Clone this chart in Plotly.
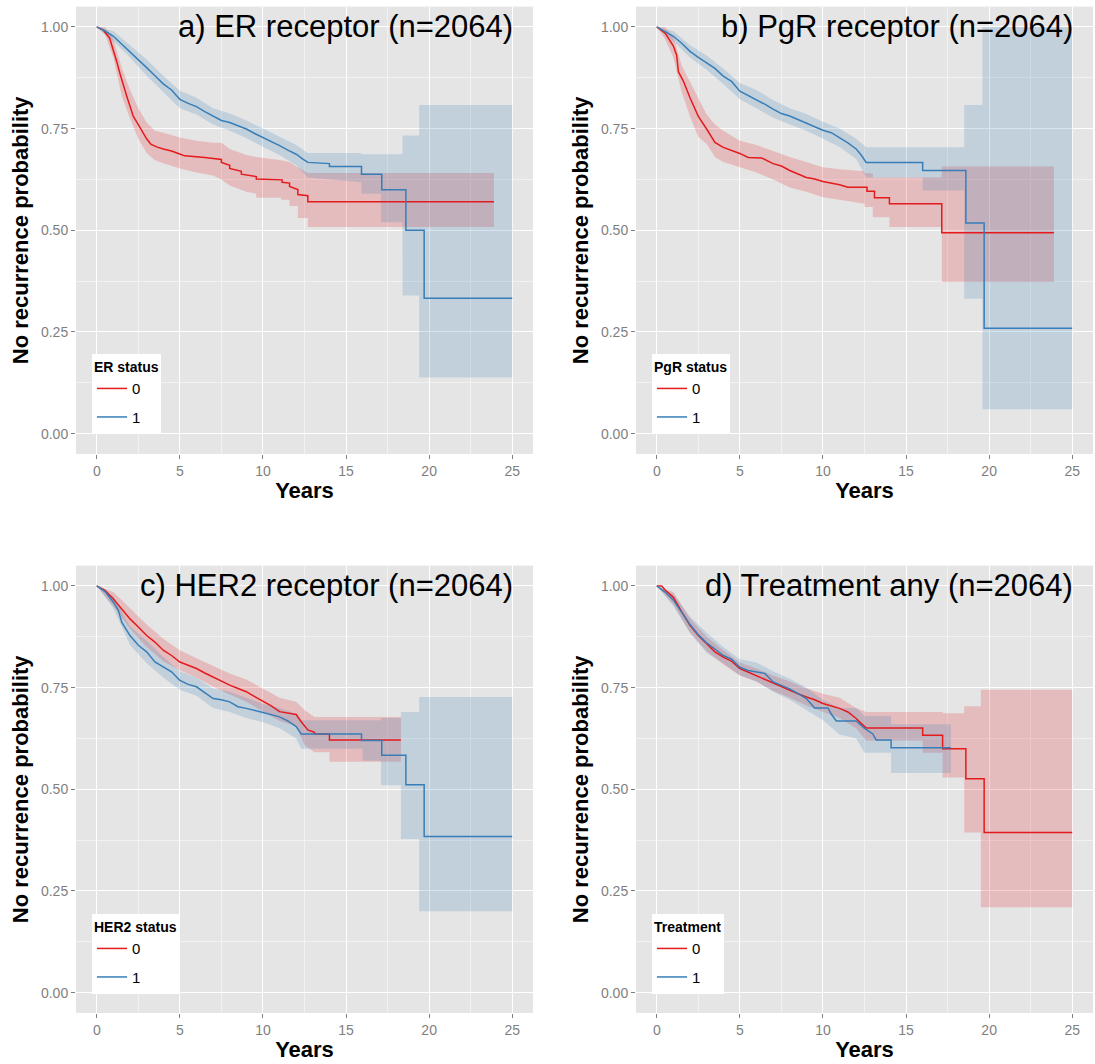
import plotly.graph_objects as go

W, H = 1095, 1064

X_TICKS = [0, 5, 10, 15, 20, 25]
Y_TICKS = [0.0, 0.25, 0.5, 0.75, 1.0]
Y_TICK_TEXT = ["0.00", "0.25", "0.50", "0.75", "1.00"]
GROUPS = ["0", "1"]

# Kaplan-Meier estimates; a repeated time marks a step (value before, value after)

# ---------------- a) ER receptor ----------------
ER0_T = [0, 0.4, 0.77, 1.0, 1.2, 1.4, 1.6, 1.8, 2.0, 2.2, 2.5, 2.7, 3.0, 3.25, 3.6, 4.0, 4.5, 4.9, 5.3, 6.5, 7.5, 7.5, 8.0, 8.0, 8.7, 8.7, 9.6, 9.6, 11.15, 11.15, 11.6, 11.6, 12.1, 12.1, 12.7, 12.7, 23.9]
ER0_S = [1.0, 0.992, 0.973, 0.945, 0.915, 0.885, 0.855, 0.83, 0.805, 0.78, 0.76, 0.745, 0.725, 0.712, 0.705, 0.70, 0.695, 0.689, 0.683, 0.679, 0.674, 0.667, 0.66, 0.652, 0.645, 0.638, 0.632, 0.626, 0.624, 0.618, 0.616, 0.608, 0.60, 0.588, 0.585, 0.57, 0.57]
ER0_BT = [0, 0.5, 1.0, 1.5, 2.0, 2.5, 3.0, 3.5, 4.0, 5.0, 6.0, 7.0, 7.5, 8.0, 9.0, 9.6, 9.6, 11.1, 11.1, 11.6, 11.6, 12.1, 12.1, 12.7, 12.7, 23.9]
ER0_LO = [1.0, 0.98, 0.925, 0.83, 0.775, 0.725, 0.69, 0.672, 0.665, 0.652, 0.642, 0.635, 0.625, 0.61, 0.595, 0.59, 0.58, 0.58, 0.575, 0.575, 0.56, 0.56, 0.53, 0.53, 0.508, 0.508]
ER0_HI = [1.0, 1.0, 0.97, 0.9, 0.845, 0.8, 0.765, 0.745, 0.74, 0.728, 0.72, 0.715, 0.715, 0.70, 0.685, 0.68, 0.68, 0.672, 0.672, 0.668, 0.668, 0.655, 0.655, 0.641, 0.641, 0.641]

ER1_T = [0, 0.5, 1.0, 1.5, 2.0, 2.5, 3.0, 3.5, 4.0, 4.5, 5.0, 5.5, 6.0, 6.5, 7.0, 7.5, 8.0, 8.5, 9.0, 9.5, 10.0, 10.5, 11.0, 11.5, 12.0, 12.4, 12.7, 14.0, 14.0, 15.93, 15.93, 17.15, 17.15, 18.6, 18.6, 19.7, 19.7, 25]
ER1_S = [1.0, 0.99, 0.977, 0.958, 0.94, 0.92, 0.90, 0.88, 0.86, 0.845, 0.822, 0.812, 0.804, 0.792, 0.78, 0.77, 0.765, 0.757, 0.749, 0.738, 0.728, 0.72, 0.708, 0.697, 0.687, 0.675, 0.667, 0.664, 0.657, 0.657, 0.638, 0.638, 0.60, 0.60, 0.50, 0.50, 0.333, 0.333]
ER1_BT = [0, 1, 2, 3, 4, 5, 6, 7, 8, 9, 10, 11, 12, 12.7, 15.93, 15.93, 17.1, 17.1, 18.4, 18.4, 19.4, 19.4, 25]
ER1_LO = [1.0, 0.965, 0.925, 0.88, 0.84, 0.80, 0.785, 0.76, 0.745, 0.727, 0.705, 0.685, 0.66, 0.63, 0.618, 0.59, 0.59, 0.52, 0.52, 0.34, 0.34, 0.138, 0.138]
ER1_HI = [1.0, 0.99, 0.955, 0.92, 0.88, 0.843, 0.826, 0.80, 0.787, 0.77, 0.75, 0.73, 0.71, 0.69, 0.69, 0.687, 0.687, 0.687, 0.687, 0.733, 0.733, 0.808, 0.808]

# ---------------- b) PgR receptor ----------------
PGR0_T = [0, 0.5, 1.0, 1.2, 1.3, 1.6, 2.0, 2.5, 3.0, 3.5, 4.0, 4.5, 5.0, 5.5, 6.3, 7.0, 7.5, 8.0, 8.5, 9.0, 9.5, 10.0, 11.0, 11.5, 12.65, 12.65, 13.1, 13.1, 14.0, 14.0, 17.15, 17.15, 23.9]
PGR0_S = [1.0, 0.985, 0.953, 0.93, 0.89, 0.867, 0.826, 0.78, 0.749, 0.716, 0.704, 0.697, 0.689, 0.679, 0.678, 0.664, 0.658, 0.647, 0.638, 0.63, 0.626, 0.62, 0.612, 0.606, 0.606, 0.596, 0.596, 0.58, 0.58, 0.565, 0.565, 0.494, 0.494]
PGR0_BT = [0, 0.5, 1, 1.5, 2, 2.5, 3, 3.5, 4, 5, 6, 7, 8, 9, 10, 11, 12.5, 12.5, 13.0, 13.0, 14.0, 14.0, 17.15, 17.15, 23.9]
PGR0_LO = [1.0, 0.97, 0.925, 0.84, 0.78, 0.73, 0.712, 0.68, 0.668, 0.655, 0.642, 0.625, 0.605, 0.595, 0.581, 0.575, 0.565, 0.557, 0.557, 0.532, 0.532, 0.508, 0.508, 0.373, 0.373]
PGR0_HI = [1.0, 1.0, 0.975, 0.905, 0.865, 0.825, 0.785, 0.76, 0.745, 0.72, 0.71, 0.695, 0.68, 0.668, 0.655, 0.65, 0.645, 0.64, 0.64, 0.63, 0.63, 0.63, 0.63, 0.657, 0.657]

PGR1_T = [0, 0.5, 1, 1.5, 2, 2.5, 3, 3.5, 4, 4.5, 5, 5.5, 6, 6.5, 7, 7.5, 8, 8.5, 9, 9.5, 10, 10.5, 11, 11.5, 12, 12.3, 12.6, 16.0, 16.0, 18.6, 18.6, 19.7, 19.7, 25]
PGR1_S = [1.0, 0.988, 0.977, 0.96, 0.94, 0.925, 0.912, 0.898, 0.879, 0.866, 0.842, 0.832, 0.822, 0.81, 0.798, 0.787, 0.781, 0.772, 0.765, 0.755, 0.746, 0.74, 0.728, 0.715, 0.70, 0.685, 0.667, 0.667, 0.647, 0.647, 0.518, 0.518, 0.259, 0.259]
PGR1_BT = [0, 1, 2, 3, 4, 5, 6, 7, 8, 9, 10, 11, 12, 12.6, 16.0, 16.0, 18.5, 18.5, 19.6, 19.6, 25]
PGR1_LO = [1.0, 0.965, 0.925, 0.895, 0.86, 0.822, 0.80, 0.777, 0.76, 0.745, 0.725, 0.705, 0.675, 0.63, 0.63, 0.598, 0.598, 0.332, 0.332, 0.06, 0.06]
PGR1_HI = [1.0, 0.99, 0.955, 0.93, 0.898, 0.862, 0.845, 0.82, 0.80, 0.786, 0.767, 0.75, 0.725, 0.704, 0.704, 0.704, 0.704, 0.808, 0.808, 1.0, 1.0]

# ---------------- c) HER2 receptor ----------------
HER0_T = [0, 0.5, 1, 1.5, 2, 2.5, 3, 3.5, 4, 4.5, 5, 5.5, 6, 6.5, 7, 7.5, 8, 8.5, 9, 9.5, 10, 10.5, 11, 12, 12.3, 12.7, 13.1, 13.1, 14.0, 14.0, 18.3]
HER0_S = [1.0, 0.989, 0.968, 0.944, 0.919, 0.899, 0.878, 0.862, 0.842, 0.829, 0.813, 0.805, 0.797, 0.786, 0.776, 0.765, 0.756, 0.748, 0.74, 0.728, 0.717, 0.705, 0.691, 0.684, 0.666, 0.646, 0.64, 0.636, 0.636, 0.621, 0.621]
HER0_BT = [0, 1, 2, 3, 4, 5, 6, 7, 8, 9, 10, 11, 12, 12.5, 13.1, 14, 14, 18.3]
HER0_LO = [1.0, 0.95, 0.895, 0.85, 0.815, 0.793, 0.775, 0.752, 0.733, 0.715, 0.691, 0.668, 0.655, 0.609, 0.591, 0.591, 0.568, 0.568]
HER0_HI = [1.0, 0.985, 0.945, 0.905, 0.87, 0.842, 0.822, 0.803, 0.785, 0.77, 0.748, 0.725, 0.715, 0.695, 0.678, 0.678, 0.678, 0.678]

HER1_T = [0, 0.5, 1, 1.3, 1.5, 2, 2.5, 3, 3.5, 4, 4.5, 5, 5.5, 6, 6.5, 7, 7.5, 8, 8.5, 9, 10, 11, 11.5, 12, 12.3, 15.93, 15.93, 17.15, 17.15, 18.6, 18.6, 19.7, 19.7, 25]
HER1_S = [1.0, 0.986, 0.96, 0.94, 0.911, 0.878, 0.854, 0.838, 0.813, 0.80, 0.789, 0.768, 0.758, 0.752, 0.738, 0.723, 0.72, 0.715, 0.703, 0.699, 0.689, 0.678, 0.668, 0.654, 0.636, 0.636, 0.62, 0.62, 0.584, 0.584, 0.511, 0.511, 0.384, 0.384]
HER1_BT = [0, 1, 2, 3, 4, 5, 6, 7, 8, 9, 10, 11, 12, 12.3, 16.0, 16.0, 17.1, 17.1, 18.3, 18.3, 19.4, 19.4, 25]
HER1_LO = [1.0, 0.945, 0.855, 0.81, 0.775, 0.745, 0.73, 0.70, 0.69, 0.675, 0.665, 0.65, 0.625, 0.60, 0.60, 0.57, 0.57, 0.51, 0.51, 0.378, 0.378, 0.20, 0.20]
HER1_HI = [1.0, 0.975, 0.90, 0.865, 0.825, 0.79, 0.775, 0.748, 0.74, 0.725, 0.71, 0.70, 0.685, 0.67, 0.67, 0.67, 0.67, 0.675, 0.675, 0.69, 0.69, 0.727, 0.727]

# ---------------- d) Treatment any ----------------
TRT0_T = [0, 0.3, 0.5, 1, 1.5, 2, 2.5, 3, 3.5, 4, 4.5, 5, 5.5, 6, 6.5, 7, 7.5, 8, 8.5, 9, 9.5, 10, 10.5, 11, 11.5, 12, 12.3, 12.6, 16.0, 16.0, 17.2, 17.2, 18.6, 18.6, 19.7, 19.7, 25]
TRT0_S = [1.0, 1.0, 0.99, 0.972, 0.936, 0.903, 0.878, 0.858, 0.838, 0.825, 0.815, 0.797, 0.788, 0.78, 0.77, 0.76, 0.752, 0.744, 0.735, 0.727, 0.72, 0.711, 0.705, 0.699, 0.69, 0.674, 0.662, 0.651, 0.651, 0.633, 0.633, 0.60, 0.60, 0.526, 0.526, 0.394, 0.394]
TRT0_BT = [0, 1, 2, 3, 4, 5, 6, 7, 8, 9, 10, 11, 12, 12.6, 16.0, 16.0, 17.2, 17.2, 18.5, 18.5, 19.5, 19.5, 25]
TRT0_LO = [1.0, 0.955, 0.885, 0.84, 0.807, 0.78, 0.765, 0.742, 0.725, 0.706, 0.69, 0.675, 0.65, 0.62, 0.62, 0.59, 0.59, 0.529, 0.529, 0.394, 0.394, 0.21, 0.21]
TRT0_HI = [1.0, 0.985, 0.92, 0.875, 0.842, 0.812, 0.797, 0.78, 0.765, 0.748, 0.735, 0.725, 0.70, 0.69, 0.69, 0.69, 0.69, 0.687, 0.687, 0.704, 0.704, 0.745, 0.745]

TRT1_T = [0, 0.5, 1, 1.5, 2, 2.5, 3, 3.5, 4, 4.5, 5, 5.5, 6, 6.5, 7, 7.5, 8, 8.5, 9, 9.5, 10.3, 10.5, 10.8, 12.0, 12.5, 13.0, 13.2, 14.1, 14.1, 17.7]
TRT1_S = [1.0, 0.985, 0.965, 0.935, 0.905, 0.88, 0.86, 0.845, 0.829, 0.82, 0.80, 0.792, 0.789, 0.785, 0.764, 0.755, 0.747, 0.735, 0.723, 0.70, 0.70, 0.685, 0.668, 0.668, 0.65, 0.636, 0.621, 0.621, 0.602, 0.602]
TRT1_BT = [0, 1, 2, 3, 4, 5, 6, 7, 8, 9, 10, 11, 12, 12.5, 14.1, 14.1, 17.7]
TRT1_LO = [1.0, 0.95, 0.885, 0.835, 0.81, 0.78, 0.765, 0.74, 0.72, 0.695, 0.67, 0.635, 0.625, 0.59, 0.59, 0.54, 0.54]
TRT1_HI = [1.0, 0.98, 0.925, 0.885, 0.85, 0.82, 0.812, 0.79, 0.772, 0.75, 0.72, 0.70, 0.70, 0.68, 0.68, 0.66, 0.66]

PANEL_TITLES = ["a) ER receptor (n=2064)", "b) PgR receptor (n=2064)",
                "c) HER2 receptor (n=2064)", "d) Treatment any (n=2064)"]
LEGEND_TITLES = ["ER status", "PgR status", "HER2 status", "Treatment"]
SERIES = [
    [(ER0_T, ER0_S, ER0_BT, ER0_LO, ER0_HI), (ER1_T, ER1_S, ER1_BT, ER1_LO, ER1_HI)],
    [(PGR0_T, PGR0_S, PGR0_BT, PGR0_LO, PGR0_HI), (PGR1_T, PGR1_S, PGR1_BT, PGR1_LO, PGR1_HI)],
    [(HER0_T, HER0_S, HER0_BT, HER0_LO, HER0_HI), (HER1_T, HER1_S, HER1_BT, HER1_LO, HER1_HI)],
    [(TRT0_T, TRT0_S, TRT0_BT, TRT0_LO, TRT0_HI), (TRT1_T, TRT1_S, TRT1_BT, TRT1_LO, TRT1_HI)],
]
for panel in SERIES:
    for T, S, BT, LO, HI in panel:
        assert len(T) == len(S), (len(T), len(S))
        assert len(BT) == len(LO) == len(HI), (len(BT), len(LO), len(HI))

# ---------------- style / layout ----------------
FONT = "Liberation Sans, Arial, Helvetica, sans-serif"
LINE_COLORS = ["#E41A1C", "#377EB8"]
FILL_COLORS = ["rgba(228,26,28,0.2)", "rgba(55,126,184,0.2)"]
PANEL_BG = "#E5E5E5"

COLS_PX = [(76, 533), (636, 1093)]
ROWS_PX = [(6.6, 454), (565.6, 1013)]
LEGEND_POS_PX = [(92, 354), (652, 354), (92, 914), (652, 914)]

fig = go.Figure()
layout = {}

for i in range(4):
    n = i + 1
    r, c = divmod(i, 2)
    xs = "" if n == 1 else str(n)
    xa, ya = "x" + xs, "y" + xs
    lg = "legend" + ("" if n == 1 else str(n))

    for (T, S, BT, LO, HI), fc in zip(SERIES[i], FILL_COLORS):
        fig.add_trace(go.Scatter(x=BT, y=LO, mode="lines", line=dict(width=0),
                                 xaxis=xa, yaxis=ya, showlegend=False, hoverinfo="skip"))
        fig.add_trace(go.Scatter(x=BT, y=HI, mode="lines", line=dict(width=0),
                                 fill="tonexty", fillcolor=fc,
                                 xaxis=xa, yaxis=ya, showlegend=False, hoverinfo="skip"))
    for (T, S, BT, LO, HI), lc, name in zip(SERIES[i], LINE_COLORS, GROUPS):
        fig.add_trace(go.Scatter(x=T, y=S, mode="lines", name=name,
                                 line=dict(color=lc, width=1.5),
                                 legendgroup="p%d_%s" % (n, name),
                                 xaxis=xa, yaxis=ya, legend=lg))

    x0, x1 = COLS_PX[c]
    y0, y1 = ROWS_PX[r]
    layout["xaxis" + xs] = dict(
        domain=[x0 / W, x1 / W], anchor=ya, range=[-1.25, 26.25],
        tickvals=X_TICKS, ticks="outside", ticklen=4, tickwidth=1, tickcolor="#7F7F7F",
        tickfont=dict(family=FONT, size=14, color="#7F7F7F"),
        showgrid=True, gridcolor="white", gridwidth=1.2, zeroline=False, showline=False,
        minor=dict(dtick=2.5, tick0=0, showgrid=True, gridcolor="#F2F2F2", gridwidth=0.6),
        title=dict(text="<b>Years</b>", font=dict(family=FONT, size=22, color="black"), standoff=4),
    )
    layout["yaxis" + xs] = dict(
        domain=[1 - y1 / H, 1 - y0 / H], anchor=xa, range=[-0.05, 1.05],
        tickvals=Y_TICKS, ticktext=Y_TICK_TEXT, ticks="outside", ticklen=4, tickwidth=1,
        tickcolor="#7F7F7F", tickfont=dict(family=FONT, size=14, color="#7F7F7F"),
        showgrid=True, gridcolor="white", gridwidth=1.2, zeroline=False, showline=False,
        minor=dict(dtick=0.125, tick0=0, showgrid=True, gridcolor="#F2F2F2", gridwidth=0.6),
        title=dict(text="<b>No recurrence probability</b>", font=dict(family=FONT, size=22, color="black"), standoff=6),
    )
    lx, ly = LEGEND_POS_PX[i]
    layout[lg] = dict(
        x=lx / W, y=1 - ly / H, xanchor="left", yanchor="top",
        bgcolor="white", borderwidth=0, traceorder="grouped", tracegroupgap=6,
        title=dict(text="<b>%s</b>" % LEGEND_TITLES[i], font=dict(family=FONT, size=14, color="black")),
        font=dict(family=FONT, size=15, color="black"),
    )

annotations = []
for i in range(4):
    n = i + 1
    xs = "" if n == 1 else str(n)
    annotations.append(dict(text=PANEL_TITLES[i], xref="x" + xs, yref="y" + xs, x=25, y=1.0,
                            xanchor="right", yanchor="middle", showarrow=False, xshift=3,
                            font=dict(family=FONT, size=31, color="black")))

fig.update_layout(
    width=W, height=H, margin=dict(l=0, r=0, t=0, b=0),
    paper_bgcolor="white", plot_bgcolor=PANEL_BG,
    font=dict(family=FONT), annotations=annotations, showlegend=True,
    **layout,
)

fig.write_html("out.html")
